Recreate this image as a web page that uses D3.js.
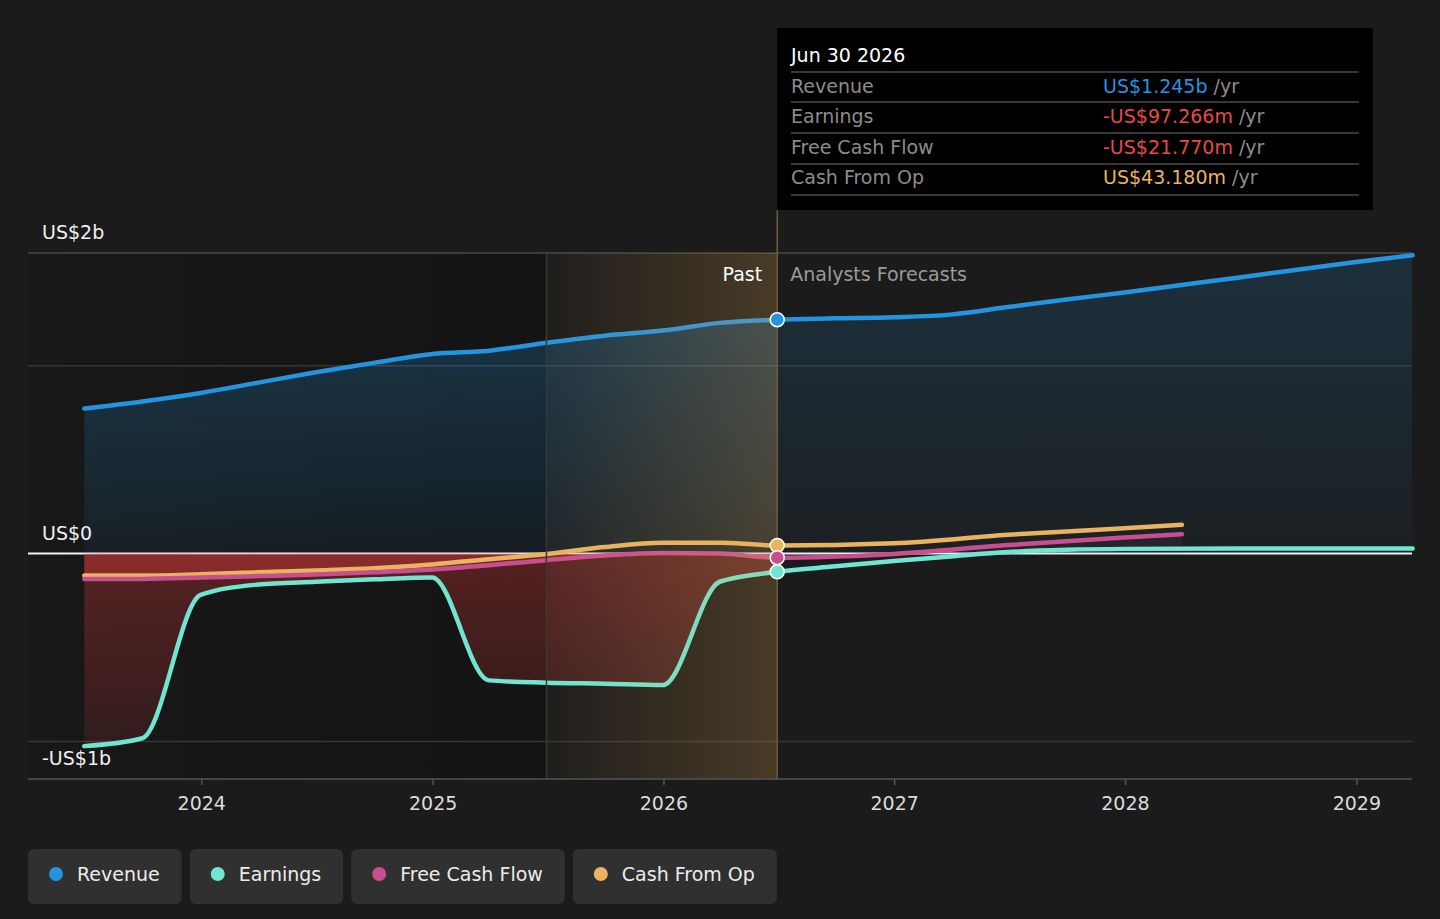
<!DOCTYPE html>
<html>
<head>
<meta charset="utf-8">
<script src="https://cdn.jsdelivr.net/npm/d3@7/dist/d3.min.js"></script>
<style>
  html, body { margin: 0; padding: 0; background: #1b1b1b; }
  svg { display: block; font-family: 'DejaVu Sans', sans-serif; }
</style>
</head>
<body>
<svg id="chart"></svg>
<script>
// past quarters (US$ b)
const pastDates = ['2023-06-30', '2023-09-30', '2023-12-31', '2024-03-31', '2024-06-30', '2024-09-30', '2024-12-31',
  '2025-03-31', '2025-06-30', '2025-09-30', '2025-12-31', '2026-03-31', '2026-06-30']
const pastRevenue = [0.772, 0.81, 0.855, 0.91, 0.965, 1.015, 1.062, 1.08, 1.122, 1.16, 1.187, 1.228, 1.245]
const pastEarnings = [-1.025, -0.983, -0.22, -0.165, -0.15, -0.137, -0.127, -0.675, -0.687, -0.693, -0.70, -0.15, -0.097]
const pastFcf = [-0.135, -0.135, -0.128, -0.12, -0.112, -0.10, -0.085, -0.062, -0.035, -0.01, 0.003, 0.0, -0.022]
const pastCfo = [-0.117, -0.117, -0.11, -0.10, -0.09, -0.078, -0.058, -0.03, -0.002, 0.035, 0.058, 0.058, 0.043]

// analyst forecasts
const fcDates = ['2026-06-30', '2026-09-30', '2026-12-31', '2027-03-31', '2027-06-30', '2027-09-30', '2027-12-31',
  '2028-06-30', '2028-12-31', '2029-03-31']
const fcRevenue = [1.245, 1.252, 1.258, 1.272, 1.312, 1.352, 1.39, 1.47, 1.552, 1.588]
const fcEarnings = [-0.097, -0.068, -0.04, -0.015, 0.008, 0.02, 0.025, 0.027, 0.027, 0.027]
const fcCashDates = ['2026-06-30', '2026-12-31', '2027-06-30', '2027-12-31', '2028-03-31']
const fcFcf = [-0.022, -0.002, 0.045, 0.085, 0.103]
const fcCfo = [0.043, 0.055, 0.10, 0.135, 0.153]

const yTickValues = [1.6, 0, -1]
const yTickLabels = ['US$2b', 'US$0', '-US$1b']
const gridValues = [1.6, 1, -1]

const seriesNames = ['Revenue', 'Earnings', 'Free Cash Flow', 'Cash From Op']
const seriesColors = ['#2394df', '#6ee6d2', '#c84f8f', '#e9b35f']

const tooltipDate = 'Jun 30 2026'
const tooltipValues = ['US$1.245b', '-US$97.266m', '-US$21.770m', 'US$43.180m']
const tooltipColors = ['#2394df', '#e84a4a', '#e84a4a', '#e9b35f']

const pastStart = '2025-06-30'
const nowDate = '2026-06-30'

const parse = d3.timeParse('%Y-%m-%d')
const toPoints = (dates, values) => dates.map((d, i) => ({ date: parse(d), value: values[i] }))

const width = 1440
const height = 919
const plotLeft = 28
const plotRight = 1412
const plotTop = 253
const plotBottom = 779

const svg = d3.select('#chart')
  .attr('width', width)
  .attr('height', height)

const x = d3.scaleTime()
  .domain([parse('2023-04-02'), parse('2029-03-30')])
  .range([plotLeft, plotRight])

const y = d3.scaleLinear()
  .domain([-1.2, 1.6])
  .range([plotBottom, plotTop])

const defs = svg.append('defs')

function linGrad(id, attrs, stops) {
  const g = defs.append('linearGradient').attr('id', id)
  Object.entries(attrs).forEach(([k, v]) => g.attr(k, v))
  stops.forEach(([o, c, a]) => g.append('stop').attr('offset', o).attr('stop-color', c).attr('stop-opacity', a))
}

linGrad('pastShade', { x1: 0, x2: 1, y1: 0, y2: 0 }, [[0, '#000', 0.12], [1, '#000', 0.28]])
linGrad('band', { x1: 0, x2: 1, y1: 0, y2: 0 }, [[0, '#e8aa50', 0.02], [1, '#e8aa50', 0.22]])
linGrad('revPast', { gradientUnits: 'userSpaceOnUse', x1: 0, x2: 0, y1: y(1.6), y2: y(0) },
  [[0, '#2394df', 0.3], [1, '#2394df', 0.07]])
linGrad('revFc', { gradientUnits: 'userSpaceOnUse', x1: 0, x2: 0, y1: y(1.6), y2: y(0) },
  [[0, '#2394df', 0.17], [1, '#2394df', 0.04]])
linGrad('earnNeg', { gradientUnits: 'userSpaceOnUse', x1: 0, x2: 0, y1: y(0), y2: y(-1.2) },
  [[0, '#e23c3c', 0.32], [1, '#e23c3c', 0.1]])

defs.append('clipPath').attr('id', 'posClip').append('rect')
  .attr('x', plotLeft).attr('y', plotTop).attr('width', plotRight - plotLeft).attr('height', y(0) - plotTop)
defs.append('clipPath').attr('id', 'negClip').append('rect')
  .attr('x', plotLeft).attr('y', y(0)).attr('width', plotRight - plotLeft).attr('height', plotBottom - y(0))

// past shading
const xPast = x(parse(pastStart))
const xNow = x(parse(nowDate))
svg.append('rect')
  .attr('x', plotLeft).attr('y', plotTop)
  .attr('width', xPast - plotLeft).attr('height', plotBottom - plotTop)
  .attr('fill', 'url(#pastShade)')

// grid
svg.selectAll('.grid')
  .data(gridValues)
  .enter()
  .append('line')
  .attr('x1', plotLeft).attr('x2', plotRight)
  .attr('y1', d => y(d)).attr('y2', d => y(d))
  .attr('stroke', (d, i) => i === 0 ? '#4a4a4a' : '#363636')
  .attr('stroke-width', 1.5)

svg.append('line')
  .attr('x1', plotLeft).attr('x2', plotRight)
  .attr('y1', y(0)).attr('y2', y(0))
  .attr('stroke', '#f2f2f2')
  .attr('stroke-width', 2)

const area = d3.area()
  .x(d => x(d.date))
  .y0(y(0))
  .y1(d => y(d.value))
  .curve(d3.curveMonotoneX)

const line = d3.line()
  .x(d => x(d.date))
  .y(d => y(d.value))
  .curve(d3.curveMonotoneX)

const revenue = [toPoints(pastDates, pastRevenue), toPoints(fcDates, fcRevenue)]
const earnings = [toPoints(pastDates, pastEarnings), toPoints(fcDates, fcEarnings)]
const fcf = [toPoints(pastDates, pastFcf), toPoints(fcCashDates, fcFcf)]
const cfo = [toPoints(pastDates, pastCfo), toPoints(fcCashDates, fcCfo)]
const allSeries = [revenue, earnings, fcf, cfo]

// areas
svg.append('path').datum(revenue[0]).attr('d', area)
  .attr('fill', 'url(#revPast)').attr('clip-path', 'url(#posClip)')
svg.append('path').datum(revenue[1]).attr('d', area)
  .attr('fill', 'url(#revFc)').attr('clip-path', 'url(#posClip)')

svg.append('path').datum(earnings[0]).attr('d', area)
  .attr('fill', 'url(#earnNeg)').attr('clip-path', 'url(#negClip)')
;[fcf[0], cfo[0]].forEach((s) => {
  svg.append('path').datum(s).attr('d', area)
    .attr('fill', '#e23c3c').attr('fill-opacity', 0.2)
    .attr('clip-path', 'url(#negClip)')
})
svg.append('path').datum(fcf[1]).attr('d', area)
  .attr('fill', '#c84f8f').attr('fill-opacity', 0.08)
  .attr('clip-path', 'url(#posClip)')

// lines, drawn back to front
;[3, 2, 1, 0].forEach((i) => {
  const s = allSeries[i]
  svg.append('path')
    .datum(s[0].concat(s[1].slice(1)))
    .attr('d', line)
    .attr('fill', 'none')
    .attr('stroke', seriesColors[i])
    .attr('stroke-width', 4.5)
    .attr('stroke-linecap', 'round')
    .attr('stroke-linejoin', 'round')
})

// highlighted last year of past
svg.append('rect')
  .attr('x', xPast).attr('y', plotTop)
  .attr('width', xNow - xPast).attr('height', plotBottom - plotTop)
  .attr('fill', 'url(#band)')

svg.append('line')
  .attr('x1', xPast).attr('x2', xPast)
  .attr('y1', plotTop).attr('y2', plotBottom)
  .attr('stroke', '#3a3833').attr('stroke-width', 1.5)

svg.append('line')
  .attr('x1', xNow).attr('x2', xNow)
  .attr('y1', 210).attr('y2', plotBottom)
  .attr('stroke', '#6e5c3e').attr('stroke-width', 1.5)

svg.append('text')
  .attr('x', xNow - 15).attr('y', 281)
  .attr('text-anchor', 'end')
  .attr('fill', '#ffffff').attr('font-size', 19)
  .text('Past')
svg.append('text')
  .attr('x', xNow + 13).attr('y', 281)
  .attr('fill', '#9a9a9a').attr('font-size', 19)
  .text('Analysts Forecasts')

// dots at current point
;[3, 2, 1, 0].forEach((i) => {
  const p = allSeries[i][1][0]
  svg.append('circle')
    .attr('cx', x(p.date)).attr('cy', y(p.value))
    .attr('r', 7)
    .attr('fill', seriesColors[i])
    .attr('stroke', '#ffffff').attr('stroke-width', 1.5)
})

// x axis
const xAxis = svg.append('g')
  .attr('transform', `translate(0,${plotBottom})`)
  .call(d3.axisBottom(x)
    .ticks(d3.timeYear.every(1))
    .tickFormat(d3.timeFormat('%Y'))
    .tickSize(6)
    .tickPadding(8))
xAxis.select('.domain').attr('stroke', '#555').attr('stroke-width', 1.5)
  .attr('d', `M${plotLeft},0H${plotRight}`)
xAxis.selectAll('.tick line').attr('stroke', '#555').attr('stroke-width', 1.5)
xAxis.selectAll('.tick text')
  .attr('fill', '#dcdcdc')
  .attr('font-size', 19)
  .attr('font-family', 'DejaVu Sans')
  .attr('dy', '0.9em')

// y labels
svg.selectAll('.ylab')
  .data(yTickValues)
  .enter()
  .append('text')
  .attr('x', 42)
  .attr('y', d => d < 0 ? y(d) + 24 : y(d) - 14)
  .attr('fill', '#f0f0f0')
  .attr('font-size', 19)
  .text((d, i) => yTickLabels[i])

// tooltip
const tip = svg.append('g').attr('transform', 'translate(777,28)')
tip.append('rect').attr('width', 596).attr('height', 182).attr('fill', '#000')
tip.append('text').attr('x', 14).attr('y', 34)
  .attr('fill', '#ffffff').attr('font-size', 19).text(tooltipDate)
;[44, 74, 105, 136, 167].forEach((ly) => {
  tip.append('line').attr('x1', 14).attr('x2', 582)
    .attr('y1', ly).attr('y2', ly)
    .attr('stroke', '#4a4a4a').attr('stroke-width', 1.5)
})
seriesNames.forEach((name, i) => {
  const ty = [65, 95, 126, 156][i]
  tip.append('text').attr('x', 14).attr('y', ty)
    .attr('fill', '#8c8c8c').attr('font-size', 19).text(name)
  const t = tip.append('text').attr('x', 326).attr('y', ty).attr('font-size', 19)
  t.append('tspan').attr('fill', tooltipColors[i]).text(tooltipValues[i])
  t.append('tspan').attr('fill', '#8c8c8c').text(' /yr')
})

// legend
let lx = 28
seriesNames.forEach((name, i) => {
  const g = svg.append('g').attr('transform', `translate(${lx},849)`)
  const box = g.append('rect').attr('height', 55).attr('rx', 6).attr('fill', '#303030')
  g.append('circle').attr('cx', 28).attr('cy', 25).attr('r', 7).attr('fill', seriesColors[i])
  const t = g.append('text').attr('x', 49).attr('y', 32)
    .attr('fill', '#ececec').attr('font-size', 19).text(name)
  const w = t.node().getComputedTextLength() + 49 + 22
  box.attr('width', w)
  lx += w + 8
})
</script>
</body>
</html>
